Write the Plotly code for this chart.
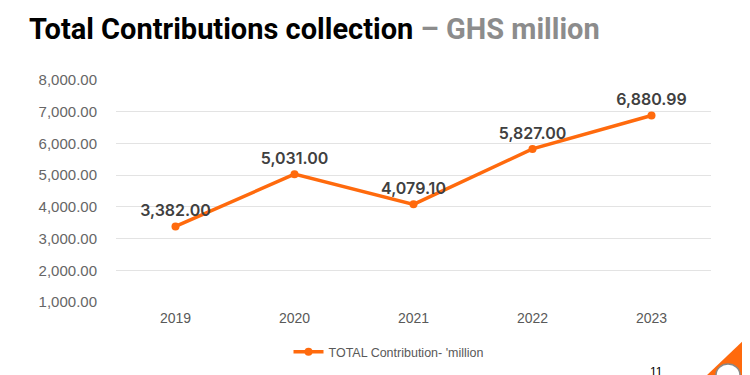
import plotly.graph_objects as go

years = ["2019", "2020", "2021", "2022", "2023"]
contributions = [3382.00, 5031.00, 4079.10, 5827.00, 6880.99]
y_ticks = [1000, 2000, 3000, 4000, 5000, 6000, 7000, 8000]
y_tick_labels = ["1,000.00", "2,000.00", "3,000.00", "4,000.00", "5,000.00", "6,000.00", "7,000.00", "8,000.00"]
data_labels = ["3,382.00", "5,031.00", "4,079.10", "5,827.00", "6,880.99"]

ORANGE = "#FF6A0D"
W, H = 750, 375
OFF = 8  # page body margin offset
# plot area in screen pixels
SX0, SX1, SY0, SY1 = 116, 711, 80, 302
L = SX0 - OFF
T = SY0 - OFF
R = W - (SX1 - OFF)
B = H - (SY1 - OFF)
pw = W - L - R
ph = H - T - B

def px(x):
    return (x - OFF - L) / pw

def py(y):
    return (H - B - (y - OFF)) / ph

fig = go.Figure()
fig.add_trace(go.Scatter(
    x=years, y=contributions, mode="lines+markers+text",
    name="TOTAL Contribution- 'million",
    line=dict(color=ORANGE, width=3.5),
    marker=dict(color=ORANGE, size=8),
    text=data_labels,
    textposition="top center",
    textfont=dict(family="Inter, Roboto, sans-serif", size=16, color="#404040", weight=600),
    cliponaxis=False,
))

fig.update_layout(
    width=W, height=H,
    margin=dict(l=L, r=R, t=T, b=B, autoexpand=False),
    paper_bgcolor="white", plot_bgcolor="white",
    showlegend=True,
    legend=dict(orientation="h", x=px(389), xanchor="center", y=py(352), yanchor="middle",
                font=dict(family="Liberation Sans, Arial, sans-serif", size=12.5, color="#595959"),
                itemwidth=30, bgcolor="rgba(0,0,0,0)"),
    xaxis=dict(range=[-0.5, 4.5], showgrid=False, showline=False, zeroline=False, ticks="", automargin=False,
               tickfont=dict(family="Liberation Sans, Arial, sans-serif", size=14, color="#595959"),
               ticklabelstandoff=6),
    yaxis=dict(range=[1000, 8000], tickvals=y_ticks, ticktext=y_tick_labels, automargin=False,
               showgrid=True, gridcolor="#E3E3E3", gridwidth=1, zeroline=False, showline=False,
               tickfont=dict(family="Liberation Sans, Arial, sans-serif", size=15, color="#666666"),
               ticklabelstandoff=18),
    font=dict(family="Liberation Sans, Arial, sans-serif"),
)

fig.add_annotation(
    xref="paper", yref="paper", x=px(27), y=py(29), xanchor="left", yanchor="middle",
    text="<b>Total Contributions collection</b> <b><span style='color:#8C8C8C'>– GHS million</span></b>",
    showarrow=False,
    font=dict(family="Roboto, sans-serif", size=29, color="#000000"),
)
fig.add_annotation(
    xref="paper", yref="paper", x=px(13), y=py(11), xanchor="left", yanchor="bottom",
    text="<b>SSNIT</b>", showarrow=False,
    font=dict(family="Roboto, sans-serif", size=15, color=ORANGE),
)
fig.add_annotation(
    xref="paper", yref="paper", x=px(656), y=py(372), xanchor="center", yanchor="middle",
    text="11", showarrow=False,
    font=dict(family="Liberation Sans, Arial, sans-serif", size=12, color="#000000"),
)
fig.add_shape(type="path", xref="paper", yref="paper",
              path=f"M {px(706)} {py(376)} L {px(746)} {py(338)} L {px(746)} {py(376)} Z",
              fillcolor=ORANGE, line=dict(width=0), layer="above")
fig.add_shape(type="circle", xref="paper", yref="paper",
              x0=px(716), x1=px(740), y0=py(386), y1=py(364),
              fillcolor="white", line=dict(color="#888888", width=1.5), layer="above")
fig.add_shape(type="line", xref="paper", yref="paper",
              x0=px(746), x1=px(746), y0=py(0), y1=py(375),
              line=dict(color="#CCCCCC", width=2), layer="above")

fig.write_html("out.html")
